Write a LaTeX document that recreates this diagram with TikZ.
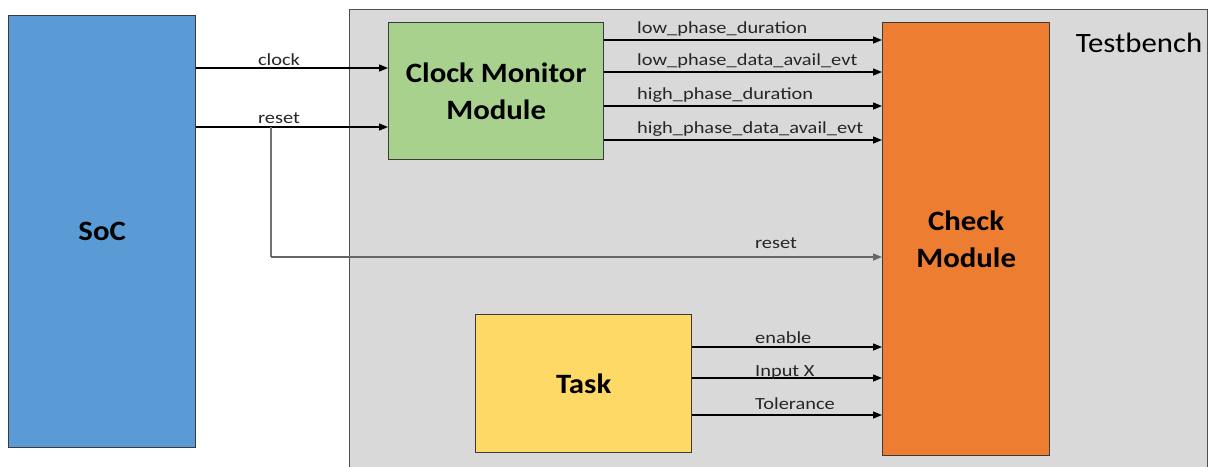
\documentclass[tikz,border=0pt]{standalone}
\usepackage{fontspec}
\setmainfont{Carlito}
\newfontfamily\lblfont[FakeStretch=1.2]{Carlito}
\newfontfamily\blkfont[FakeStretch=1.1]{Carlito}
\usetikzlibrary{arrows.meta}
\definecolor{socblue}{HTML}{5B9BD5}
\definecolor{tbgray}{HTML}{D9D9D9}
\definecolor{cmmgreen}{HTML}{A9D18E}
\definecolor{chkorange}{HTML}{ED7D31}
\definecolor{taskyellow}{HTML}{FFD966}
\definecolor{edge}{HTML}{3A3A3A}
\tikzset{
  blk/.style={draw=edge, line width=1.3pt, inner sep=0pt, font=\blkfont\fontsize{28}{37}\selectfont\bfseries, align=center},
  sig/.style={draw=black, line width=1.4pt, -{Triangle[length=9pt,width=7pt]}},
  lbl/.style={font=\lblfont\fontsize{17}{19}\selectfont, text=black!85, inner sep=0pt, anchor=base}
}
\begin{document}
\begin{tikzpicture}[x=1pt,y=-1pt]
\useasboundingbox (0,0) rectangle (1210,466);
\fill[white] (0,0) rectangle (1210,466);
% Testbench
\node[draw=edge!90, fill=tbgray, line width=1.3pt, minimum width=858pt, minimum height=475pt, anchor=north west, inner sep=0pt] (tb) at (349,9) {};
\node[font=\blkfont\fontsize{28}{30}\selectfont, anchor=base, inner sep=0pt] (tbl) at (1139,52) {Testbench};
% blocks
\node[blk, fill=socblue, minimum width=187pt, minimum height=432pt, anchor=north west] (soc) at (8,15) {SoC};
\node[blk, fill=cmmgreen, minimum width=215pt, minimum height=137pt, anchor=north west] (cmm) at (388,22) {Clock Monitor\\Module};
\node[blk, fill=chkorange, minimum width=167pt, minimum height=433pt, anchor=north west] (chk) at (882,22) {Check\\Module};
\node[blk, fill=taskyellow, minimum width=216pt, minimum height=138pt, anchor=north west] (task) at (475,314) {Task};
% clock & reset
\draw[sig] (soc.east |- 0,68) -- (cmm.west |- 0,68);
\node[lbl] at (279,65) {clock};
\draw[sig] (soc.east |- 0,127) -- (cmm.west |- 0,127);
\node[lbl] at (279,123) {reset};
\coordinate (br) at (271,127);
\draw[draw=black!55, line width=1.4pt] (br) -- (271,257);
\draw[sig, draw=black!60] (271,257) -- (chk.west |- 0,257);
\node[lbl] at (776,248) {reset};
% clock monitor outputs
\foreach \y/\t in {40/low\_phase\_duration, 72/low\_phase\_data\_avail\_evt, 106/high\_phase\_duration, 140/high\_phase\_data\_avail\_evt}{
  \draw[sig] (cmm.east |- 0,\y) -- (chk.west |- 0,\y);
  \node[lbl, anchor=base west] at (637,\y-7) {\t};
}
% task outputs
\foreach \y/\b/\t in {347/343/enable, 378/376/Input X, 415/409/Tolerance}{
  \draw[sig] (task.east |- 0,\y) -- (chk.west |- 0,\y);
  \node[lbl, anchor=base west] at (755,\b) {\t};
}
\end{tikzpicture}
\end{document}
